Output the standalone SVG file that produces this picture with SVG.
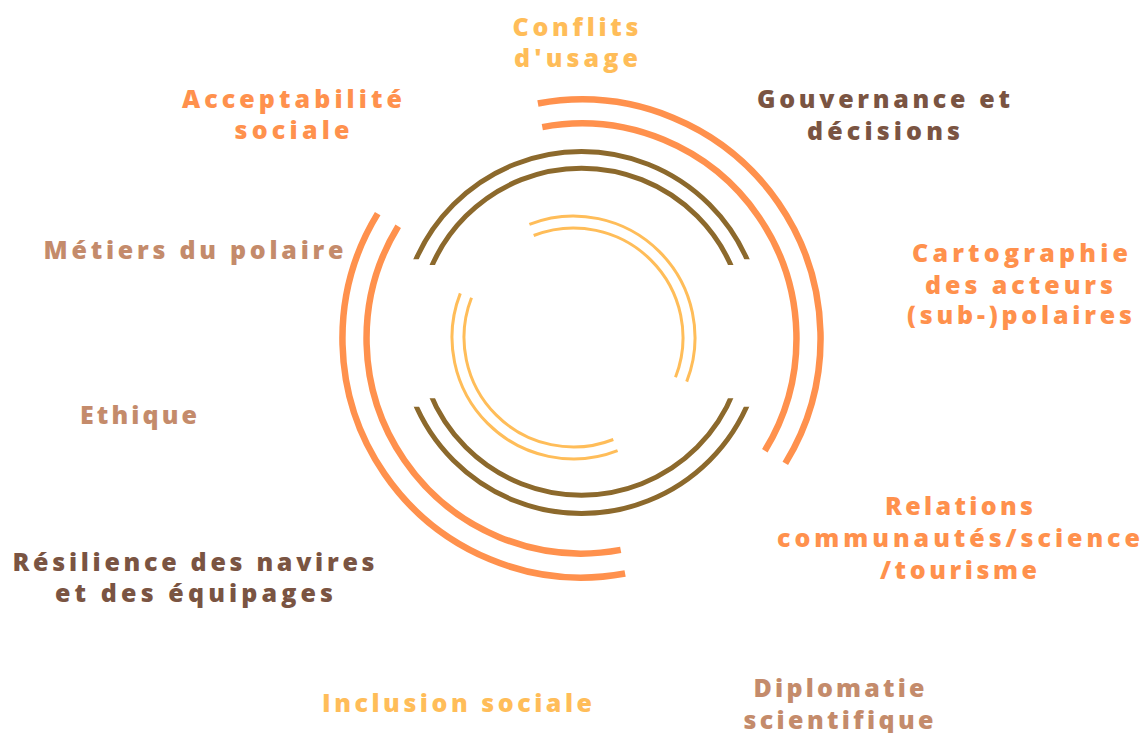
<svg xmlns="http://www.w3.org/2000/svg" width="1147" height="733" viewBox="0 0 1147 733">
  <defs>
    <style>
      .lbl { font-family: "Open Sans", "Noto Sans", "DejaVu Sans", sans-serif; font-weight: 800; font-size: 25px; font-variant-ligatures: none; }
      .yel { fill: #ffbd59; }
      .org { fill: #ff914d; }
      .dbr { fill: #7a5442; }
      .tan { fill: #c48b6b; }
      .arcO { fill: none; stroke: #ff914d; stroke-width: 6.5; stroke-linecap: butt; }
      .arcB { fill: none; stroke: #8c692c; stroke-width: 5; }
      .arcY { fill: none; stroke: #ffbd59; stroke-width: 3; stroke-linecap: butt; }
    </style>
    <clipPath id="clipBO">
      <rect x="0" y="0" width="1147" height="259.3"/>
      <rect x="0" y="406.7" width="1147" height="326.3"/>
    </clipPath>
    <clipPath id="clipBI">
      <rect x="0" y="0" width="1147" height="265"/>
      <rect x="0" y="398.3" width="1147" height="334.7"/>
    </clipPath>
  </defs>
  <rect width="1147" height="733" fill="#ffffff"/>

  <g id="connectors">
    <g id="orange-rings">
      <path class="arcO" d="M537.9,103.5 A239,239 0 0 1 785.3,463.4"/>
      <path class="arcO" d="M625.1,573.5 A239,239 0 0 1 377.7,213.6"/>
      <path class="arcO" d="M542.3,127.1 A215,215 0 0 1 764.8,450.8"/>
      <path class="arcO" d="M620.7,549.9 A215,215 0 0 1 398.2,226.2"/>
    </g>
    <g id="brown-rings">
      <circle class="arcB" cx="581.5" cy="332.5" r="181" clip-path="url(#clipBO)"/>
      <circle class="arcB" cx="581.5" cy="331.7" r="163.5" clip-path="url(#clipBI)"/>
    </g>
    <g id="yellow-rings">
      <path class="arcY" d="M529.4,224.3 A121.5,121.5 0 0 1 686.7,381.6"/>
      <path class="arcY" d="M617.6,450.7 A121.5,121.5 0 0 1 460.3,293.4"/>
      <path class="arcY" d="M533.7,235.5 A109.5,109.5 0 0 1 675.5,377.3"/>
      <path class="arcY" d="M613.3,439.5 A109.5,109.5 0 0 1 471.5,297.7"/>
    </g>
  </g>

  <g id="n-conflits" class="lbl yel">
    <text x="512.5" y="36" textLength="126" lengthAdjust="spacing">Conflits</text>
    <text x="514" y="67" textLength="124" lengthAdjust="spacing">d'usage</text>
  </g>
  <g id="n-acceptabilite" class="lbl org">
    <text x="182" y="108" textLength="220" lengthAdjust="spacing">Acceptabilité</text>
    <text x="234.5" y="138.5" textLength="115" lengthAdjust="spacing">sociale</text>
  </g>
  <g id="n-gouvernance" class="lbl dbr">
    <text x="757" y="107.5" textLength="253" lengthAdjust="spacing">Gouvernance et</text>
    <text x="807" y="140" textLength="153" lengthAdjust="spacing">décisions</text>
  </g>
  <g id="n-metiers" class="lbl tan">
    <text x="43.5" y="258.5" textLength="300" lengthAdjust="spacing">Métiers du polaire</text>
  </g>
  <g id="n-cartographie" class="lbl org">
    <text x="912" y="262" textLength="216" lengthAdjust="spacing">Cartographie</text>
    <text x="925" y="293.5" textLength="188" lengthAdjust="spacing">des acteurs</text>
    <text x="907" y="324" textLength="225" lengthAdjust="spacing">(sub-)polaires</text>
  </g>
  <g id="n-ethique" class="lbl tan">
    <text x="80" y="423.5" textLength="117" lengthAdjust="spacing">Ethique</text>
  </g>
  <g id="n-relations" class="lbl org">
    <text x="885" y="515" textLength="148" lengthAdjust="spacing">Relations</text>
    <text x="777" y="546.5" textLength="363" lengthAdjust="spacing">communautés/science</text>
    <text x="880" y="578.5" textLength="157" lengthAdjust="spacing">/tourisme</text>
  </g>
  <g id="n-resilience" class="lbl dbr">
    <text x="12.5" y="570.5" textLength="362" lengthAdjust="spacing">Résilience des navires</text>
    <text x="55" y="602" textLength="278" lengthAdjust="spacing">et des équipages</text>
  </g>
  <g id="n-inclusion" class="lbl yel">
    <text x="322" y="712" textLength="270" lengthAdjust="spacing">Inclusion sociale</text>
  </g>
  <g id="n-diplomatie" class="lbl tan">
    <text x="753.5" y="697" textLength="171" lengthAdjust="spacing">Diplomatie</text>
    <text x="743.5" y="728.5" textLength="190" lengthAdjust="spacing">scientifique</text>
  </g>
</svg>
